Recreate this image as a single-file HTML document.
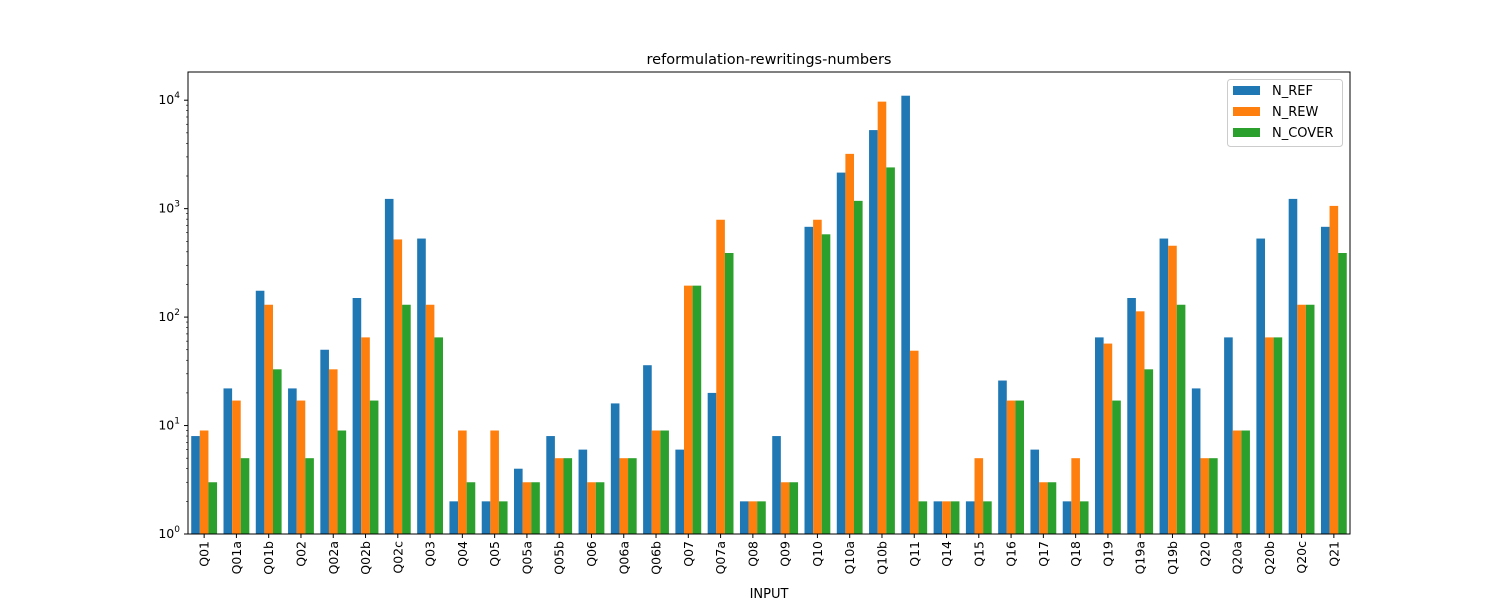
<!DOCTYPE html>
<html><head><meta charset="utf-8"><style>
body{margin:0;background:#fff;}
svg text{font-family:"DejaVu Sans","Liberation Sans",sans-serif;}
</style></head><body>
<svg id="chart" width="1500" height="600" xmlns="http://www.w3.org/2000/svg">
<rect width="1500" height="600" fill="#fff"/>
<text x="769" y="64" font-size="14.5" text-anchor="middle">reformulation-rewritings-numbers</text>
<text x="769" y="598" font-size="13" text-anchor="middle">INPUT</text>
<g id="bars"></g>
<g id="axes"></g>
<rect x="188" y="72" width="1162" height="462" fill="none" stroke="#000" stroke-width="1"/>
<g>
<rect x="1227.5" y="79.5" width="115" height="67" rx="3" fill="#fff" stroke="#ccc"/>
<rect x="1233" y="86" width="27" height="9" fill="#1f77b4"/>
<text x="1272" y="95" font-size="13">N_REF</text>
<rect x="1233" y="107" width="27" height="9" fill="#ff7f0e"/>
<text x="1272" y="116" font-size="13">N_REW</text>
<rect x="1233" y="128" width="27" height="9" fill="#2ca02c"/>
<text x="1272" y="137" font-size="13">N_COVER</text>
</g>
</svg>
<script>
const categories=["Q01","Q01a","Q01b","Q02","Q02a","Q02b","Q02c","Q03","Q04","Q05","Q05a","Q05b","Q06","Q06a","Q06b","Q07","Q07a","Q08","Q09","Q10","Q10a","Q10b","Q11","Q14","Q15","Q16","Q17","Q18","Q19","Q19a","Q19b","Q20","Q20a","Q20b","Q20c","Q21"];
const nRef=[8,22,175,22,50,150,1230,530,2,2,4,8,6,16,36,6,20,2,8,680,2150,5300,11000,2,2,26,6,2,65,150,530,22,65,530,1230,680];
const nRew=[9,17,130,17,33,65,520,130,9,9,3,5,3,5,9,195,790,2,3,790,3200,9700,49,2,5,17,3,5,57,113,455,5,9,65,130,1060];
const nCover=[3,5,33,5,9,17,130,65,3,2,3,5,3,5,9,195,390,2,3,580,1180,2400,2,2,2,17,3,2,17,33,130,5,9,65,130,390];
const yTickExps=[0,1,2,3,4];
const NS="http://www.w3.org/2000/svg";
const L=188,R=1350,T=72,B=534;
const yMin=0,yMax=4.26;
function y(v){return B-(Math.log10(v)-yMin)/(yMax-yMin)*(B-T);}
const n=categories.length, step=(R-L)/n;
function xc(i){return L+step*(i+0.5);}
const bw=step*0.8/3;
const series=[["ref",nRef,"#1f77b4"],["rew",nRew,"#ff7f0e"],["cover",nCover,"#2ca02c"]];
const gb=document.getElementById("bars"), ga=document.getElementById("axes");
function mk(tag,attrs,parent){const e=document.createElementNS(NS,tag);for(const k in attrs)e.setAttribute(k,attrs[k]);parent.appendChild(e);return e;}
series.forEach((s,si)=>{
  s[1].forEach((v,i)=>{
    const x=xc(i)-step*0.4+si*bw, yy=y(v);
    const r=mk("rect",{x:x,y:yy,width:bw,height:B-yy,fill:s[2]},gb);
    
    
  });
});
categories.forEach((c,i)=>{
  const x=xc(i);
  mk("line",{x1:x,x2:x,y1:B,y2:B+4,stroke:"#000"},ga);
  const t=mk("text",{transform:`translate(${x+4.5},${B+7}) rotate(-90)`,"font-size":"12.5","text-anchor":"end"},ga);
  t.textContent=c;
  
  
});
yTickExps.forEach(e=>{
  const yy=y(Math.pow(10,e));
  mk("line",{x1:L-4,x2:L,y1:yy,y2:yy,stroke:"#000"},ga);
  const t=mk("text",{x:L-8,y:yy+4,"font-size":"12.5","text-anchor":"end"},ga);
  t.innerHTML="10<tspan dy='-6' font-size='9'>"+e+"</tspan>";
  
  
  for(let m=2;m<10;m++){const v=m*Math.pow(10,e);if(Math.log10(v)<=yMax){const ym=y(v);mk("line",{x1:L-2,x2:L,y1:ym,y2:ym,stroke:"#000","stroke-width":0.6},ga);}}
});
</script>
</body></html>
